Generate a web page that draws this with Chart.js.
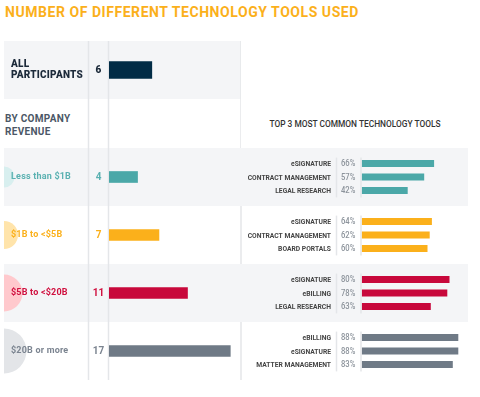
<!DOCTYPE html>
<html>
<head>
<meta charset="utf-8">
<script src="https://cdn.jsdelivr.net/npm/chart.js@4.4.1/dist/chart.umd.min.js"></script>
<style>
	body { margin: 0; width: 480px; height: 397px; background: #fff; position: relative; overflow: hidden; font-family: Roboto, sans-serif; }
	canvas { position: absolute; }
	#title { position: absolute; left: 5px; top: 4px; font: bold 14px Roboto; letter-spacing: 0.55px; color: #fbb01b; white-space: nowrap; }
	#byRevenue { position: absolute; left: 5px; top: 112px; font: bold 10px/13px Roboto; color: #4b5766; letter-spacing: 0.3px; }
	#topTools { position: absolute; left: 241px; width: 228px; top: 118px; text-align: center; font: 500 9.5px Roboto; color: #333; white-space: nowrap; transform: scaleX(0.88); }
</style>
</head>
<body>
<div id="title">NUMBER OF DIFFERENT TECHNOLOGY TOOLS USED</div>
<div id="byRevenue">BY COMPANY<br>REVENUE</div>
<div id="topTools">TOP 3 MOST COMMON TECHNOLOGY TOOLS</div>
<canvas id="allChart" width="241" height="107" style="left:0;top:41px"></canvas>
<canvas id="revenueChart" width="480" height="232" style="left:0;top:148px"></canvas>
<canvas id="toolsChart" width="239" height="232" style="left:241px;top:148px"></canvas>
<script>
// Number of tools, all participants
const allLabel = ["ALL", "PARTICIPANTS"];
const allCount = [6];

// Number of tools by company revenue
const revenueGroups = ["Less than $1B", "$1B to <$5B", "$5B to <$20B", "$20B or more"];
const toolCounts = [4, 7, 11, 17];

// Top 3 tools per revenue group (% of respondents)
const firstTools = ["eSIGNATURE", "eSIGNATURE", "eSIGNATURE", "eBILLING"];
const firstShares = [66, 64, 80, 88];
const secondTools = ["CONTRACT MANAGEMENT", "CONTRACT MANAGEMENT", "eBILLING", "eSIGNATURE"];
const secondShares = [57, 62, 78, 88];
const thirdTools = ["LEGAL RESEARCH", "BOARD PORTALS", "LEGAL RESEARCH", "MATTER MANAGEMENT"];
const thirdShares = [42, 60, 63, 83];

// Styles
const groupColors = ["#4ba8a8", "#fbb01b", "#c8083b", "#6f7a86"];
const labelColors = ["#5ab1b1", "#fbb01b", "#d0103f", "#7b8490"];
const circleColors = ["#d8efef", "#ffe4ab", "#ffc9cd", "#e3e5e8"];
const circleRadius = [10.5, 14, 18.5, 22.5];
const bandColor = "#f4f5f7";
const lineColor = "#e4e6e9";

function vline(ctx, x, y1, y2) {
	ctx.save();
	ctx.strokeStyle = lineColor;
	ctx.lineWidth = 1.5;
	ctx.beginPath();
	ctx.moveTo(x, y1);
	ctx.lineTo(x, y2);
	ctx.stroke();
	ctx.restore();
}

// condensed look: squeeze Roboto horizontally
function narrowText(ctx, text, x, y, align, squeeze) {
	ctx.save();
	ctx.translate(x, y);
	ctx.scale(squeeze, 1);
	ctx.textAlign = align;
	ctx.fillText(text, 0, 0);
	ctx.restore();
}

const hidden = { legend: { display: false }, tooltip: { enabled: false } };

// All participants
new Chart(document.getElementById("allChart"), {
	type: "bar",
	data: {
		labels: [allLabel.join(" ")],
		datasets: [{ data: allCount, backgroundColor: "#022c46", barThickness: 17 }],
	},
	options: {
		indexAxis: "y",
		responsive: false,
		animation: false,
		layout: { padding: { left: 109, right: 0, top: 0, bottom: 49 } },
		scales: {
			x: { display: false, min: 0, max: 18.5 },
			y: { display: false },
		},
		plugins: hidden,
	},
	plugins: [{
		id: "allDeco",
		beforeDraw(chart) {
			const { ctx, chartArea, height } = chart;
			ctx.fillStyle = bandColor;
			ctx.fillRect(4, chartArea.top, 237, chartArea.bottom - chartArea.top);
			vline(ctx, 88.5, 0, height);
			vline(ctx, 108.5, 0, height);
			vline(ctx, 241, 0, height);
		},
		afterDraw(chart) {
			const { ctx } = chart;
			const y = chart.scales.y.getPixelForValue(0);
			ctx.save();
			ctx.fillStyle = "#1c2a3a";
			ctx.font = "900 10px Roboto";
			ctx.letterSpacing = "0.2px";
			ctx.textBaseline = "middle";
			ctx.fillText(allLabel[0], 11, y - 5.5);
			ctx.fillText(allLabel[1], 11, y + 5.5);
			ctx.letterSpacing = "0px";
			ctx.textAlign = "center";
			ctx.fillText(allCount[0], 98.5, y);
			ctx.restore();
		},
	}],
});

// By company revenue
new Chart(document.getElementById("revenueChart"), {
	type: "bar",
	data: {
		labels: revenueGroups,
		datasets: [{ data: toolCounts, backgroundColor: groupColors, barThickness: 11 }],
	},
	options: {
		indexAxis: "y",
		responsive: false,
		animation: false,
		layout: { padding: { left: 109, right: 239, top: 0, bottom: 0 } },
		scales: {
			x: { display: false, min: 0, max: 18.5 },
			y: { display: false },
		},
		plugins: hidden,
	},
	plugins: [{
		id: "revenueDeco",
		beforeDraw(chart) {
			const { ctx, height } = chart;
			const yScale = chart.scales.y;
			const step = height / revenueGroups.length;
			vline(ctx, 241, 0, height);
			revenueGroups.forEach((g, i) => {
				const y = yScale.getPixelForValue(i);
				if (i % 2 === 0) {
					ctx.fillStyle = bandColor;
					ctx.fillRect(4, y - step / 2, 464, step);
				}
			});
			vline(ctx, 88.5, 0, height);
			vline(ctx, 108.5, 0, height);
			revenueGroups.forEach((g, i) => {
				const y = yScale.getPixelForValue(i);
				ctx.save();
				ctx.beginPath();
				ctx.rect(4, y - 30, 40, 60);
				ctx.clip();
				ctx.fillStyle = circleColors[i];
				ctx.beginPath();
				ctx.arc(4, y, circleRadius[i], 0, Math.PI * 2);
				ctx.fill();
				ctx.restore();
			});
		},
		afterDraw(chart) {
			const { ctx } = chart;
			const yScale = chart.scales.y;
			ctx.save();
			ctx.textBaseline = "middle";
			revenueGroups.forEach((g, i) => {
				const y = yScale.getPixelForValue(i);
				ctx.fillStyle = labelColors[i];
				ctx.font = "bold 9px Roboto";
				ctx.letterSpacing = "0.2px";
				ctx.textAlign = "left";
				ctx.fillText(g, 11, y);
				ctx.letterSpacing = "0px";
				ctx.font = "bold 10px Roboto";
				ctx.textAlign = "center";
				ctx.fillText(toolCounts[i], 98.5, y);
			});
			ctx.restore();
		},
	}],
});

// Top 3 most common tools
const toolNames = [firstTools, secondTools, thirdTools];
new Chart(document.getElementById("toolsChart"), {
	type: "bar",
	data: {
		labels: revenueGroups,
		datasets: [
			{ data: firstShares, backgroundColor: groupColors },
			{ data: secondShares, backgroundColor: groupColors },
			{ data: thirdShares, backgroundColor: groupColors },
		],
	},
	options: {
		indexAxis: "y",
		responsive: false,
		animation: false,
		datasets: { bar: { categoryPercentage: 0.693, barPercentage: 0.52 } },
		layout: { padding: { left: 120.5, right: 8.5, top: 0, bottom: 0 } },
		scales: {
			x: { display: false, min: 0, max: 100 },
			y: { display: false },
		},
		plugins: hidden,
	},
	plugins: [{
		id: "toolsDeco",
		afterDraw(chart) {
			const { ctx } = chart;
			const metas = [0, 1, 2].map((d) => chart.getDatasetMeta(d));
			ctx.save();
			ctx.textBaseline = "middle";
			revenueGroups.forEach((g, i) => {
				const top = metas[0].data[i].y - 6;
				const bottom = metas[2].data[i].y + 7;
				vline(ctx, 95.5, top, bottom);
				vline(ctx, 120, top, bottom);
				metas.forEach((meta, d) => {
					const bar = meta.data[i];
					ctx.fillStyle = "#444";
					ctx.font = "bold 8px Roboto";
					narrowText(ctx, toolNames[d][i], 90, bar.y + 0.5, "right", 0.84);
					ctx.fillStyle = "#8c939b";
					ctx.font = "500 8.5px Roboto";
					narrowText(ctx, chart.data.datasets[d].data[i] + "%", 100, bar.y + 0.5, "left", 0.9);
				});
			});
			ctx.restore();
		},
	}],
});
</script>
</body>
</html>
